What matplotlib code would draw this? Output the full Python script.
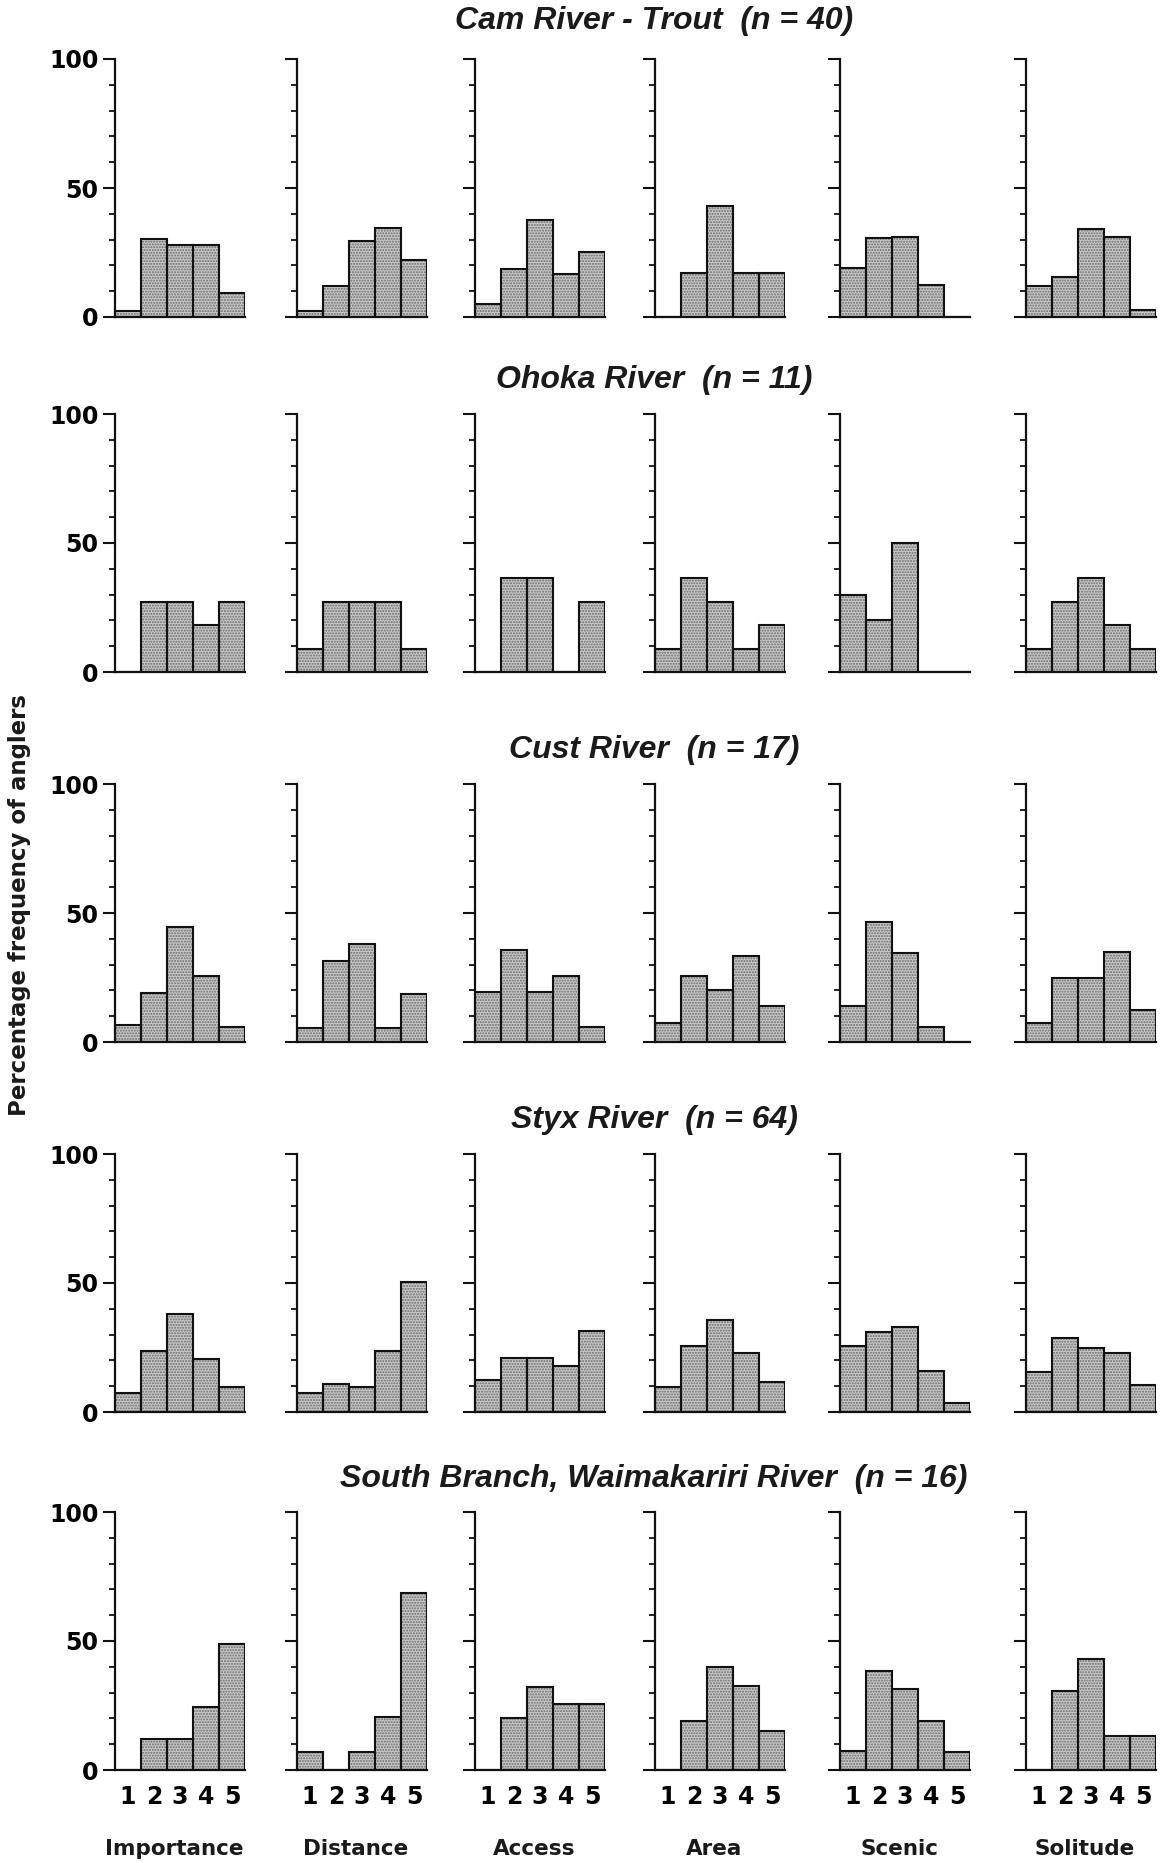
import numpy as np
import matplotlib.pyplot as plt
from matplotlib.ticker import MultipleLocator

# percentage of anglers giving each score (1-5), one row per attribute
attributes = ["Importance", "Distance", "Access", "Area", "Scenic", "Solitude"]
scores = [1, 2, 3, 4, 5]

cam_trout = [
    [2.5, 30.3, 28, 28, 9.3],
    [2.5, 12, 29.5, 34.5, 22],
    [5, 18.5, 37.5, 16.5, 25],
    [0, 17, 43, 17, 17],
    [19, 30.5, 31, 12.5, 0],
    [12, 15.5, 34, 31, 2.7],
]
ohoka = [
    [0, 27.3, 27.3, 18.2, 27.3],
    [9.1, 27.3, 27.3, 27.3, 9.1],
    [0, 36.4, 36.4, 0, 27.3],
    [9.1, 36.4, 27.3, 9.1, 18.2],
    [30, 20, 50, 0, 0],
    [9.1, 27.3, 36.4, 18.2, 9.1],
]
cust = [
    [6.5, 19, 44.5, 25.5, 6],
    [5.5, 31.5, 38, 5.5, 18.5],
    [19.5, 35.5, 19.5, 25.5, 6],
    [7.5, 25.5, 20, 33.5, 14],
    [14, 46.5, 34.5, 6, 0],
    [7.5, 25, 25, 35, 12.5],
]
styx = [
    [7.5, 23.5, 38, 20.5, 9.5],
    [7.5, 11, 9.5, 23.5, 50.5],
    [12.5, 21, 21, 18, 31.5],
    [9.5, 25.5, 35.5, 23, 11.5],
    [25.5, 31, 33, 16, 3.5],
    [15.5, 28.5, 25, 23, 10.5],
]
south_branch = [
    [0, 12, 12, 24.5, 49],
    [7, 0, 7, 20.5, 68.5],
    [0, 20, 32, 25.5, 25.5],
    [0, 19, 40, 32.5, 15],
    [7.5, 38.5, 31.5, 19, 7],
    [0, 30.5, 43, 13, 13],
]

rivers = [
    ("Cam River - Trout  (n = 40)", cam_trout),
    ("Ohoka River  (n = 11)", ohoka),
    ("Cust River  (n = 17)", cust),
    ("Styx River  (n = 64)", styx),
    ("South Branch, Waimakariri River  (n = 16)", south_branch),
]

W, H = 1164, 1863
fig = plt.figure(figsize=(W / 100, H / 100), dpi=100)
fig.patch.set_facecolor("white")

col_left = [115, 297, 475, 655, 840, 1026]   # pixel x of each y axis
row_base = [317, 672, 1042, 1412, 1770]      # pixel y of each zero line
title_y = [21, 380, 750, 1120, 1479]
ax_w, ax_h = 130, 258

num_font = dict(family="DejaVu Sans", weight="bold", size=17)

for r, (title, data) in enumerate(rivers):
    fig.text(0.562, 1 - title_y[r] / H, title, ha="center", va="center",
             family="Liberation Sans", weight="bold", style="italic",
             size=23, color="#1a1a1a")
    for c, vals in enumerate(data):
        ax = fig.add_axes([col_left[c] / W, 1 - row_base[r] / H,
                           ax_w / W, ax_h / H])
        # halftone-looking fill, then crisp outlines on top
        ax.bar(scores, vals, width=1.0, color="#c9c9c9", edgecolor="#6a6a6a",
               hatch="......", linewidth=0)
        ax.bar(scores, vals, width=1.0, fill=False, edgecolor="#111111",
               linewidth=1.5)
        ax.set_xlim(0.5, 5.5)
        ax.set_ylim(0, 100)
        for s in ("top", "right"):
            ax.spines[s].set_visible(False)
        for s in ("left", "bottom"):
            ax.spines[s].set_linewidth(1.6)
            ax.spines[s].set_color("#111111")
        ax.yaxis.set_major_locator(MultipleLocator(50))
        ax.yaxis.set_minor_locator(MultipleLocator(10))
        ax.tick_params(axis="y", which="major", direction="out", length=9,
                       width=1.5, color="#111111", pad=3)
        ax.tick_params(axis="y", which="minor", direction="out", length=4.5,
                       width=1.3, color="#111111")
        ax.tick_params(axis="x", length=0, pad=11)
        ax.set_xticks(scores)
        if c == 0:
            ax.set_yticklabels([f"{int(v)}" for v in ax.get_yticks()],
                               fontdict=num_font)
        else:
            ax.set_yticklabels([])
        if r == len(rivers) - 1:
            ax.set_xticklabels([str(s) for s in scores], fontdict=num_font)
            fig.text((col_left[c] + ax_w / 2 - 6) / W, 1 - 1849 / H,
                     attributes[c], ha="center", va="center",
                     family="DejaVu Sans", weight="bold", size=15.5,
                     color="#1a1a1a")
        else:
            ax.set_xticklabels([])
        ax.set_facecolor("none")

fig.text(20 / W, 1 - 905 / H, "Percentage frequency of anglers",
         rotation=90, ha="center", va="center", family="DejaVu Sans",
         weight="bold", size=16.5, color="#1a1a1a")

fig.savefig("out.png", dpi=100, facecolor="white")
